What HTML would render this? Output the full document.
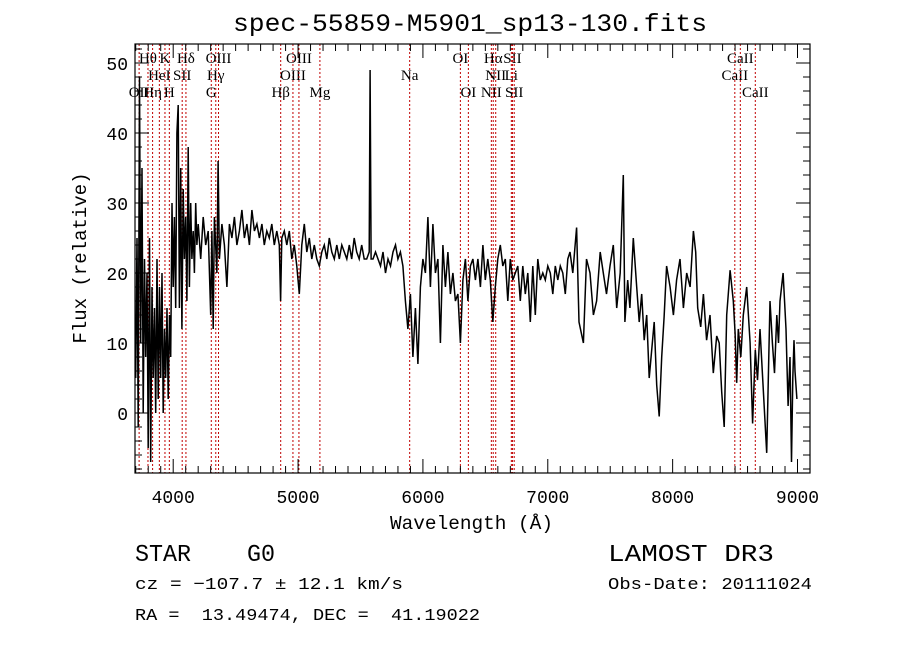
<!DOCTYPE html>
<html><head><meta charset="utf-8"><style>
body{margin:0;background:#fff;}
svg{display:block;}
.mono{font-family:"Liberation Mono",monospace;fill:#000;}
.ser{font-family:"Liberation Serif",serif;fill:#000;font-size:15px;}
</style></head><body>
<svg id="chart" width="900" height="649" viewBox="0 0 900 649" xmlns="http://www.w3.org/2000/svg">
<rect width="900" height="649" fill="#fff"/>
<text class="mono" x="233" y="31" font-size="25" textLength="474" lengthAdjust="spacingAndGlyphs">spec-55859-M5901_sp13-130.fits</text>
<g id="lines"></g><g id="spec"></g><g id="axes"></g>
<text class="mono" x="390" y="529" font-size="19" textLength="163" lengthAdjust="spacingAndGlyphs">Wavelength (Å)</text>
<text class="mono" transform="translate(86,258) rotate(-90)" font-size="19" text-anchor="middle">Flux (relative)</text>
<text class="mono" x="135" y="561" font-size="24" xml:space="preserve" textLength="140" lengthAdjust="spacingAndGlyphs">STAR    G0</text>
<text class="mono" x="608" y="561" font-size="24" textLength="166" lengthAdjust="spacingAndGlyphs">LAMOST DR3</text>
<text class="mono" x="135" y="589" font-size="17" textLength="268" lengthAdjust="spacingAndGlyphs">cz = −107.7 ± 12.1 km/s</text>
<text class="mono" x="608" y="589" font-size="17" textLength="204" lengthAdjust="spacingAndGlyphs">Obs-Date: 20111024</text>
<text class="mono" x="135" y="620" font-size="17" xml:space="preserve" textLength="345" lengthAdjust="spacingAndGlyphs">RA =  13.49474, DEC =  41.19022</text>
</svg>
<script>
const wave=[3700,3710,3720,3730,3740,3750,3760,3770,3780,3790,3800,3810,3820,3830,3840,3850,3860,3870,3880,3890,3900,3910,3920,3930,3940,3950,3960,3970,3980,3990,4000,4010,4020,4030,4040,4050,4060,4070,4080,4090,4100,4110,4120,4130,4140,4150,4160,4170,4180,4190,4200,4220,4240,4260,4280,4300,4310,4320,4330,4350,4360,4370,4390,4410,4430,4450,4470,4490,4510,4530,4550,4570,4590,4610,4630,4650,4670,4690,4710,4730,4750,4770,4790,4810,4830,4850,4860,4870,4890,4910,4930,4950,4970,4990,5010,5030,5050,5070,5090,5110,5130,5150,5170,5190,5210,5230,5250,5270,5290,5310,5330,5350,5370,5390,5410,5430,5450,5470,5490,5510,5530,5550,5570,5577,5585,5600,5620,5640,5660,5680,5700,5720,5740,5760,5780,5800,5820,5840,5860,5880,5900,5920,5940,5960,5980,6000,6020,6040,6060,6080,6100,6120,6140,6160,6180,6200,6220,6240,6260,6280,6300,6320,6340,6360,6380,6400,6420,6440,6460,6480,6500,6520,6540,6560,6580,6600,6620,6640,6660,6680,6700,6720,6740,6760,6780,6800,6820,6840,6860,6880,6900,6920,6940,6960,6980,7000,7020,7040,7060,7080,7100,7120,7140,7160,7178,7200,7231,7250,7285,7310,7338,7365,7391,7420,7445,7470,7498,7525,7552,7580,7605,7618,7640,7658,7685,7712,7732,7752,7772,7792,7812,7832,7852,7872,7892,7912,7932,7952,7980,8006,8032,8059,8086,8113,8140,8166,8185,8201,8225,8246,8272,8299,8326,8353,8373,8393,8413,8433,8460,8486,8500,8513,8526,8546,8566,8593,8620,8640,8662,8680,8700,8726,8753,8780,8799,8816,8834,8848,8860,8885,8908,8925,8940,8952,8962,8972,8980,8995,9007];
const flux=[5,25,-2,48,10,35,0,22,8,20,-5,25,-7,18,5,15,0,22,2,18,5,20,0,12,5,15,2,14,8,30,18,28,15,40,44,15,35,12,32,22,28,16,38,18,30,22,26,20,30,24,27,22,28,24,26,14,26,12,28,20,36,22,27,24,18,27,25,28,24,26,29,25,27,24,29,26,27,25,27,24,26,25,27,24,26,24,16,25,26,24,26,22,24,21,17,24,27,23,25,22,24,22,21,23,24,22,25,23,22,24,22,24,23,22,24,22,25,23,22,24,22,22,23,49,22,22,23,22,21,23,20,22,21,23,24,22,23,21,16,12,17,8,15,7,18,22,20,28,18,27,20,22,10,24,18,23,17,20,16,17,10,19,22,16,21,22,19,22,18,24,19,22,19,13,18,22,24,21,22,16,22,19,20,21,16,21,17,20,13,21,14,22,19,20,19,21,20,17,21,19,21,20,17,22,23,20,26.5,13,10,22,20,14,16,23,20,17,21,24,15,20,34,13,19,15,25,18,13,17,10.4,14,5,9,13,4,-0.5,8,13.7,21,18,14,19,22,15,20,18,26,23,15,12.3,17,10.4,14,5.7,11,10,3,-2,14,20.4,16,11.4,4.3,12,8,14,18,10,-1.5,9,4.7,12,3.3,-5.7,16,10,5.7,14,10,16,20,12,1,8,-7,5,10.4,6,2];
const lineWave=[3727,3798,3835,3889,3934,3969,4072,4102,4305,4341,4363,4861,4959,5007,5175,5894,6300,6364,6548,6563,6583,6708,6717,6731,8498,8542,8662];
const lineLabels=["OII","Hθ","Hη","HeI","K","H","SII","Hδ","G","Hγ","OIII","Hβ","OIII","OIII","Mg","Na","OI","OI","NII","Hα","NII","Li","SII","SII","CaII","CaII","CaII"];
const lineRows=[2,0,2,1,0,2,1,0,2,1,0,2,1,0,2,1,0,2,2,0,1,1,0,2,1,0,2];
const xTicks=[4000,5000,6000,7000,8000,9000];
const yTicks=[0,10,20,30,40,50];
const L=135,R=810,T=44,B=473;
const X=w=>173.2+(w-4000)*0.12486;
const Y=f=>413-f*7;
const NS="http://www.w3.org/2000/svg";
function mk(t,a,p){const e=document.createElementNS(NS,t);for(const k in a)e.setAttribute(k,a[k]);p.appendChild(e);return e;}
const gl=document.getElementById('lines'),gs=document.getElementById('spec'),ga=document.getElementById('axes');
lineWave.forEach((w,i)=>{
 const x=X(w);
 const ln=mk('line',{x1:x,x2:x,y1:T,y2:B,stroke:'#c00000','stroke-width':1,'stroke-dasharray':'2,2'},gl);
 
 
 const t=mk('text',{x:x,y:63+lineRows[i]*17,'text-anchor':'middle',class:'ser'},gl);
 t.textContent=lineLabels[i];
 
 
});
const pts=wave.map((w,i)=>X(w).toFixed(1)+','+Y(Math.max(-8.5,Math.min(52.5,flux[i]))).toFixed(1)).join(' ');
const pl=mk('polyline',{points:pts,fill:'none',stroke:'#000','stroke-width':1.5,'stroke-linejoin':'miter'},gs);


const fr=mk('rect',{x:L,y:T,width:R-L,height:B-T,fill:'none',stroke:'#000','stroke-width':1.2},ga);


for(let w=3700;w<=9100;w+=100){const x=X(w);if(x<L||x>R)continue;const maj=w%1000===0;const h=maj?14:7;
 mk('line',{x1:x,x2:x,y1:B,y2:B-h,stroke:'#000'},ga);mk('line',{x1:x,x2:x,y1:T,y2:T+h,stroke:'#000'},ga);}
for(let f=-8;f<=52;f+=2){const y=Y(f);if(y<T||y>B)continue;const maj=f%10===0;const h=maj?14:7;
 mk('line',{x1:L,x2:L+h,y1:y,y2:y,stroke:'#000'},ga);mk('line',{x1:R,x2:R-h,y1:y,y2:y,stroke:'#000'},ga);}
xTicks.forEach(w=>{const t=mk('text',{x:X(w),y:503,'text-anchor':'middle',class:'mono','font-size':18},ga);t.textContent=w;
 
 });
yTicks.forEach(f=>{const t=mk('text',{x:128,y:Y(f)+7,'text-anchor':'end',class:'mono','font-size':18},ga);t.textContent=f;
 
 });
</script>
</body></html>
